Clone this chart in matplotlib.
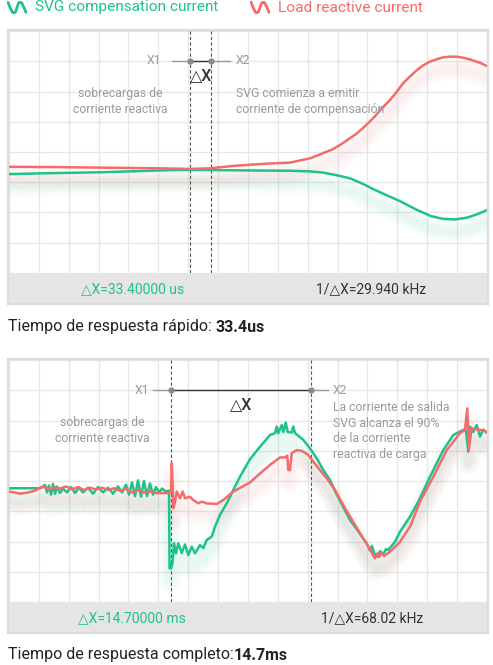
import numpy as np
import matplotlib
matplotlib.use("Agg")
import matplotlib.pyplot as plt
from matplotlib.patches import Rectangle

# ---------------------------------------------------------------------------
# Data: x in screen samples (9..487), y in grid divisions (0..8)
# ---------------------------------------------------------------------------

TOP_GREEN_X = [9, 50, 100, 140, 170, 190, 220, 250, 290, 310, 323, 337, 350, 362,
               374, 386, 401, 416, 431, 443, 455, 467, 477, 487]
TOP_GREEN_Y = [3.27, 3.30, 3.33, 3.37, 3.40, 3.41, 3.40, 3.39, 3.38, 3.36, 3.32, 3.23,
               3.13, 2.96, 2.76, 2.58, 2.36, 2.10, 1.88, 1.79, 1.77, 1.83, 1.94, 2.08]

TOP_RED_X = [9, 60, 110, 160, 190, 210, 230, 250, 270, 290, 310, 323, 332, 340, 348,
             357, 365, 373, 381, 390, 397, 403, 410, 417, 423, 430, 437, 443, 450,
             457, 464, 470, 476, 480, 487]
TOP_RED_Y = [3.51, 3.50, 3.48, 3.46, 3.44, 3.46, 3.53, 3.58, 3.62, 3.65, 3.79, 3.96,
             4.08, 4.23, 4.41, 4.62, 4.85, 5.11, 5.41, 5.72, 6.00, 6.27, 6.50, 6.71,
             6.86, 6.99, 7.07, 7.13, 7.15, 7.15, 7.11, 7.06, 6.99, 6.95, 6.84]

BOT_GREEN_X = [9, 40, 42, 45, 47, 49, 51, 53, 55, 57, 60, 63, 67, 71, 75, 79, 83, 88,
               93, 98, 103, 108, 113, 118, 122, 126, 129, 132, 135, 138, 141, 144, 147,
               150, 153, 156, 159, 162, 166, 169, 169.6, 171, 172.5, 174, 176, 178.3,
               181.7, 185, 188.3, 191.7, 195, 200, 203.3, 206.7, 211.7, 215, 220, 226.7,
               233.3, 240, 250, 260, 270, 275, 276.7, 278.3, 281.7, 283.3, 285.7, 287.7,
               291.7, 293.3, 295, 303.3, 310, 316.7, 323.3, 330, 336.7, 350, 366.7, 370,
               372, 374, 376.7, 380, 383.3, 386, 388.3, 395, 400, 410, 418.3, 430,
               443.3, 453.3, 463.3, 466, 468.3, 470, 473.3, 476.7, 480, 483.3, 486.7]
BOT_GREEN_Y = [3.76, 3.76, 3.80, 3.87, 3.62, 3.85, 3.55, 3.90, 3.58, 3.82, 3.60, 3.75,
               3.62, 3.80, 3.60, 3.78, 3.62, 3.78, 3.58, 3.80, 3.62, 3.78, 3.58, 3.82,
               3.62, 3.88, 3.55, 3.95, 3.50, 4.02, 3.48, 4.00, 3.50, 3.92, 3.55, 3.80,
               3.62, 3.75, 3.65, 3.68, 1.11, 1.11, 1.28, 1.95, 1.61, 1.94, 1.62, 1.90,
               1.55, 1.83, 1.61, 1.88, 1.78, 2.05, 2.16, 2.49, 2.88, 3.26, 3.70, 4.14,
               4.72, 5.13, 5.52, 5.58, 5.80, 5.58, 5.85, 5.62, 5.93, 5.62, 5.60, 5.80,
               5.58, 5.36, 5.08, 4.75, 4.36, 4.03, 3.55, 2.71, 1.94, 1.70, 1.85, 1.62,
               1.50, 1.68, 1.58, 1.75, 1.72, 1.99, 2.32, 2.82, 3.32, 4.14, 5.02, 5.52,
               5.69, 5.65, 4.97, 5.80, 5.62, 5.85, 5.47, 5.70, 5.60]

BOT_RED_X = [9, 15, 20, 28, 35, 40, 45, 50, 55, 60, 66, 72, 78, 84, 90, 96, 102, 108,
             114, 120, 126, 132, 138, 144, 150, 156, 162, 168, 171, 171.8, 172.5, 173.3,
             175, 176.7, 180, 182.7, 185, 190, 193.3, 198.3, 201.7, 206.7, 216.7, 223.3,
             233.3, 250, 260, 270, 280, 285, 287.3, 288.3, 290, 291.7, 296.7, 301.7,
             308.3, 313.3, 320, 326.7, 335, 345, 355, 365, 370, 373, 375, 377, 379, 381,
             384, 390, 400, 410, 420, 433.3, 446.7, 460, 465, 467.3, 468.7, 471.7, 480,
             486.7]
BOT_RED_Y = [3.65, 3.62, 3.58, 3.62, 3.68, 3.78, 3.80, 3.72, 3.80, 3.75, 3.82, 3.72,
             3.80, 3.70, 3.78, 3.72, 3.78, 3.70, 3.76, 3.68, 3.74, 3.62, 3.70, 3.62,
             3.66, 3.60, 3.60, 3.60, 3.62, 4.59, 4.00, 3.10, 3.30, 3.65, 3.43, 3.65,
             3.43, 3.48, 3.37, 3.26, 3.32, 3.26, 3.24, 3.37, 3.65, 3.95, 4.25, 4.53,
             4.78, 4.78, 4.84, 4.36, 4.36, 4.92, 5.02, 5.00, 4.86, 4.64, 4.36, 4.09,
             3.70, 3.10, 2.55, 2.00, 1.75, 1.55, 1.45, 1.60, 1.48, 1.62, 1.52, 1.66,
             1.99, 2.49, 3.32, 4.14, 5.02, 5.58, 5.69, 6.40, 5.02, 5.74, 5.69, 5.63]

TOP_CURSORS = [190, 211]
BOT_CURSORS = [171.5, 311]

GREEN = "#1ec28b"
RED = "#f76a6a"
GRAY_TXT = "#9a9a9a"
FONT = ["Roboto", "DejaVu Sans"]

W, H = 493, 665


def fx(px):
    return px / W


def fy(py):
    return 1 - py / H


def txt(fig, px, py, s, **kw):
    kw.setdefault("family", FONT)
    return fig.text(fx(px), fy(py), s, **kw)


def panel(fig, top, cursors, line_x, gx, gy, rx, ry):
    """Scope-style panel: grid area from `top` to `top+242`, footer band below."""
    bottom = top + 242
    fig.patches.append(Rectangle((fx(8), fy(bottom + 31)), fx(488) - fx(8), fy(bottom) - fy(bottom + 31),
                                 transform=fig.transFigure, facecolor="#e5e5e5",
                                 edgecolor="none", zorder=0))
    fig.patches.append(Rectangle((fx(8), fy(bottom + 31)), fx(488) - fx(8), fy(top - 1) - fy(bottom + 31),
                                 transform=fig.transFigure, facecolor="none",
                                 edgecolor="#dcdcdc", linewidth=1.6, zorder=5))

    ax = fig.add_axes([fx(9), fy(bottom), fx(487) - fx(9), fy(top) - fy(bottom)])
    ax.set_xlim(9, 487)
    ax.set_ylim(0, 8)
    ax.set_xticks(np.linspace(9, 487, 17))
    ax.set_yticks(np.arange(0, 9))
    ax.grid(True, color="#e6e6e6", linewidth=0.9)
    ax.tick_params(length=0, labelbottom=False, labelleft=False)
    for sp in ax.spines.values():
        sp.set_visible(False)

    # soft glow under each trace
    for xs, ys, c in [(gx, gy, GREEN), (rx, ry, RED)]:
        yy = np.array(ys) - 0.4
        for lw in (16, 12, 8, 5):
            ax.plot(xs, yy, color=c, lw=lw, alpha=0.022, solid_capstyle="round",
                    solid_joinstyle="round")

    ax.plot(gx, gy, color=GREEN, lw=1.8, zorder=4, solid_joinstyle="round")
    ax.plot(rx, ry, color=RED, lw=1.8, zorder=4, solid_joinstyle="round")

    for c in cursors:
        ax.axvline(c, color="#555555", lw=0.8, ls=(0, (3, 2)), zorder=3)

    # cursor marker bar
    ax.plot([line_x[0], cursors[0]], [7, 7], color="#9a9a9a", lw=1.0, zorder=5)
    ax.plot([cursors[1], line_x[1]], [7, 7], color="#9a9a9a", lw=1.0, zorder=5)
    ax.plot(cursors, [7, 7], color="#333333", lw=1.0, zorder=5)
    ax.plot(cursors, [7, 7], "o", color="#8a8a8a", ms=3.5, zorder=6)
    return ax


fig = plt.figure(figsize=(W / 100, H / 100), dpi=100)

# legend
for x0, c, label in [(7, GREEN, "SVG compensation current"), (250, RED, "Load reactive current")]:
    iax = fig.add_axes([fx(x0), fy(14), fx(20), fy(1) - fy(14)])
    iax.plot([0, 0.12, 0.25, 0.33, 0.42, 0.5, 0.58, 0.67, 0.75, 0.88, 1.0],
             [1, 0.5, 0.05, 0, 0.1, 0.5, 0.9, 1, 0.95, 0.5, 0.05],
             color=c, lw=2.0, solid_capstyle="round")
    iax.set_xlim(-0.05, 1.05)
    iax.set_ylim(-0.1, 1.1)
    iax.axis("off")
    txt(fig, x0 + 28, 7.5, label, color=c, fontsize=11.1, va="center")

ANN = 8.8

# top panel
panel(fig, 31, TOP_CURSORS, [172, 230], TOP_GREEN_X, TOP_GREEN_Y, TOP_RED_X, TOP_RED_Y)
txt(fig, 161, 61, "X1", color=GRAY_TXT, fontsize=ANN, ha="right", va="center")
txt(fig, 236, 61, "X2", color=GRAY_TXT, fontsize=ANN, ha="left", va="center")
txt(fig, 201, 76, "△X", color="#333333", fontsize=11.5, ha="center", va="center",
    fontweight="medium")
txt(fig, 120, 101.5, "sobrecargas de\ncorriente reactiva", color=GRAY_TXT, fontsize=ANN,
    ha="center", va="center", linespacing=1.25)
txt(fig, 236, 101.5, "SVG comienza a emitir\ncorriente de compensación", color=GRAY_TXT,
    fontsize=ANN, ha="left", va="center", linespacing=1.25)
txt(fig, 133, 289, "△X=33.40000 us", color=GREEN, fontsize=10, ha="center", va="center")
txt(fig, 371, 289, "1/△X=29.940 kHz", color="#333333", fontsize=10, ha="center", va="center")
t1 = txt(fig, 8, 327, "Tiempo de respuesta rápido: ", color="#222222", fontsize=11.5,
         va="center")

# bottom panel
panel(fig, 360, BOT_CURSORS, [153, 328], BOT_GREEN_X, BOT_GREEN_Y, BOT_RED_X, BOT_RED_Y)
txt(fig, 149, 391, "X1", color=GRAY_TXT, fontsize=ANN, ha="right", va="center")
txt(fig, 333, 391, "X2", color=GRAY_TXT, fontsize=ANN, ha="left", va="center")
txt(fig, 241, 405, "△X", color="#333333", fontsize=11.5, ha="center", va="center",
    fontweight="medium")
txt(fig, 102, 430.5, "sobrecargas de\ncorriente reactiva", color=GRAY_TXT, fontsize=ANN,
    ha="center", va="center", linespacing=1.25)
txt(fig, 333, 431, "La corriente de salida\nSVG alcanza el 90%\nde la corriente\nreactiva de carga",
    color=GRAY_TXT, fontsize=ANN, ha="left", va="center", linespacing=1.25)
txt(fig, 132, 618, "△X=14.70000 ms", color=GREEN, fontsize=10, ha="center", va="center")
txt(fig, 372, 618, "1/△X=68.02 kHz", color="#333333", fontsize=10, ha="center", va="center")
t2 = txt(fig, 8, 655, "Tiempo de respuesta completo:", color="#222222", fontsize=11.5,
         va="center")

# bold values appended right after the captions
fig.canvas.draw()
r = fig.canvas.get_renderer()
for t, val in [(t1, "33.4us"), (t2, "14.7ms")]:
    bb = t.get_window_extent(r)
    fig.text(bb.x1 / fig.bbox.width, t.get_position()[1], val, color="#222222",
             fontsize=11.5, fontweight="bold", va="center", family=FONT)

fig.savefig("out.png", dpi=100, facecolor="white")
